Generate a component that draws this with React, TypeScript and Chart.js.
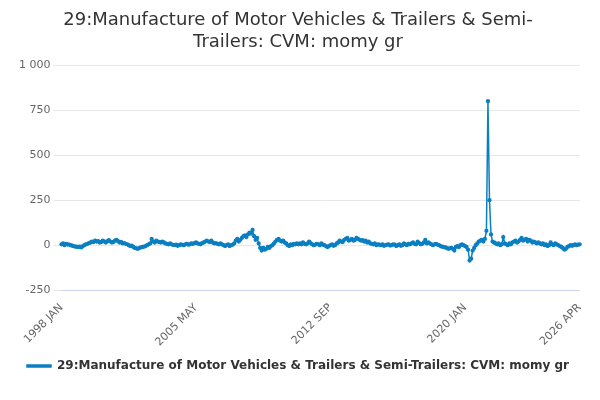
import React, { useEffect, useRef } from "react";
import { Chart, registerables } from "chart.js";
Chart.register(...registerables);

const MONTHS = ["JAN","FEB","MAR","APR","MAY","JUN","JUL","AUG","SEP","OCT","NOV","DEC"];
const startYear = 1998;
const values: number[] = [
  // 1998
  5, 10, 0, 8, 5, 3, 0, -3, -5, -8, -8, -10,
  // 1999
  -8, -12, -5, 0, 5, 8, 12, 15, 20, 18, 25, 20,
  // 2000
  22, 15, 18, 25, 20, 15, 22, 28, 20, 15, 18, 25,
  // 2001
  30, 22, 15, 18, 10, 12, 8, 5, 0, -5, -3, -10,
  // 2002
  -15, -18, -20, -15, -12, -10, -8, -5, 0, 5, 10, 35,
  // 2003
  20, 15, 25, 20, 18, 15, 20, 15, 10, 8, 5, 10,
  // 2004
  5, 2, 0, 3, -3, 0, 5, 2, 0, 5, 8, 3,
  // 2005
  5, 10, 8, 12, 15, 10, 8, 5, 12, 15, 20, 25,
  // 2006
  20, 18, 25, 15, 10, 12, 8, 5, 10, 5, 0, -5,
  // 2007
  0, 5, -5, 0, 3, 10, 25, 35, 20, 30, 40, 50,
  // 2008
  55, 45, 60, 70, 65, 85, 50, 30, 40, 10, -15, -30,
  // 2009
  -15, -25, -20, -10, -15, -5, 0, 10, 20, 30, 35, 25,
  // 2010
  20, 25, 15, 10, 0, -5, 5, 0, 8, 5, 10, 5,
  // 2011
  10, 5, 15, 8, 5, 10, 20, 12, 5, 0, 3, 8,
  // 2012
  5, 0, 10, 3, 0, -5, -10, -5, 0, 5, -3, 0,
  // 2013
  10, 15, 25, 20, 18, 30, 35, 40, 25, 30, 35, 25,
  // 2014
  30, 40, 35, 30, 25, 28, 20, 25, 15, 20, 10, 8,
  // 2015
  5, 10, 0, 5, 3, 0, 5, -3, 0, 3, 5, -2,
  // 2016
  0, 5, 3, -5, 0, 5, -3, 0, 10, 5, 0, 8,
  // 2017
  5, 10, 15, 8, 5, 20, 12, 5, 8, 15, 30, 10,
  // 2018
  15, 10, 5, 0, 5, 8, 3, 0, -5, -8, -10, -12,
  // 2019
  -15, -20, -18, -15, -20, -30, -10, -5, -10, 0, 5, 0,
  // 2020
  -5, -10, -25, -85, -75, -30, -15, 0, 10, 20, 25, 30,
  // 2021
  20, 35, 80, 800, 250, 60, 20, 15, 10, 5, 10, 0,
  // 2022
  5, 45, 10, 5, 0, 10, 5, 15, 20, 25, 15, 20,
  // 2023
  30, 40, 25, 30, 35, 20, 30, 25, 15, 20, 15, 10,
  // 2024
  15, 10, 5, 10, 0, 5, -5, 0, 15, 5, 0, 10,
  // 2025
  5, 0, -5, -10, -15, -25, -20, -10, -5, 0, -3, 0,
  // 2026
  5, 0, 3, 5,
];
const labels: string[] = values.map((_, i) => `${startYear + Math.floor(i / 12)} ${MONTHS[i % 12]}`);
const shownTicks = ["1998 JAN", "2005 MAY", "2012 SEP", "2020 JAN", "2026 APR"];
const yTicks = [-250, 0, 250, 500, 750, 1000];
const seriesName = "29:Manufacture of Motor Vehicles & Trailers & Semi-Trailers: CVM: momy gr";

export default function App() {
  const ref = useRef<HTMLCanvasElement>(null);
  useEffect(() => {
    const font = "'DejaVu Sans', sans-serif";
    const chart = new Chart(ref.current!, {
      type: "line",
      data: {
        labels,
        datasets: [{
          label: seriesName,
          data: values,
          borderColor: "#0a7fc2",
          backgroundColor: "#0a7fc2",
          borderWidth: 1.5,
          pointRadius: 1.4,
          pointHoverRadius: 3,
          tension: 0,
        }],
      },
      options: {
        animation: false,
        responsive: false,
        layout: { padding: { left: 8, right: 12, top: 2, bottom: 4 } },
        plugins: {
          title: {
            display: true,
            text: ["29:Manufacture of Motor Vehicles & Trailers & Semi-", "Trailers: CVM: momy gr"],
            font: { family: font, size: 18, weight: "normal" },
            color: "#333",
            padding: { top: 0, bottom: 12 },
          },
          legend: {
            position: "bottom",
            labels: { font: { family: font, size: 12, weight: "bold" }, color: "#333", boxWidth: 24, boxHeight: 2, padding: 8 },
          },
          tooltip: { enabled: false },
        },
        scales: {
          x: {
            grid: { display: false },
            border: { color: "#ccd6eb" },
            ticks: {
              autoSkip: false,
              maxRotation: 45,
              minRotation: 45,
              font: { family: font, size: 11 },
              color: "#666",
              callback: (_v: any, i: number) => (shownTicks.includes(labels[i]) ? labels[i] : null),
            },
          },
          y: {
            min: -250,
            max: 1000,
            afterBuildTicks: (ax: any) => { ax.ticks = yTicks.map((v) => ({ value: v })); },
            grid: { color: "#e6e6e6" },
            border: { display: false },
            ticks: {
              font: { family: font, size: 11 },
              color: "#666",
              callback: (v: any) => (Number(v) === 1000 ? "1 000" : String(v)),
            },
          },
        },
      },
    });
    return () => chart.destroy();
  }, []);
  return (
    <div style={{ position: "relative", width: 584, height: 378 }}>
      <canvas ref={ref} width={584} height={378} />
      <div style={{ position: "absolute", right: 0, top: 378, font: "12px 'DejaVu Sans', sans-serif", color: "#666" }}>Source:</div>
    </div>
  );
}
